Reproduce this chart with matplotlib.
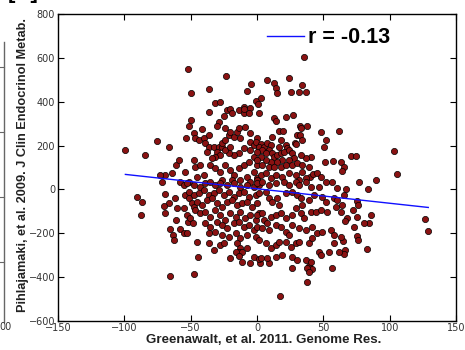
import numpy as np
import matplotlib.pyplot as plt
from matplotlib.lines import Line2D

# Per-subject scores: (Greenawalt 2011, Pihlajamaki 2009)
outliers = [
    (35.4, 604), (-52.3, 548), (-23.7, 518), (-4.4, 481), (7.7, 497), (12.5, 485),
    (24.4, 510), (33.9, 475), (-99.2, 180), (-84.5, 157), (-90.6, -36), (-86.6, -57),
    (-87.4, -115), (103, 177), (105.2, 70), (89.6, 42), (83.8, 2), (126.6, -136),
    (129.1, -190), (85.8, -115), (84.6, -155), (82.8, -272), (37.4, -424), (17, -486),
    (77, 35), (67, 0), (75, -51), (76.5, -71), (72, -94), (75.7, -124), (73.2, -170),
    (75.7, -212), (76.5, -231), (68.2, -129), (66.4, -146), (66.1, -276), (65.9, -295),
    (80.7, -155), (64.9, -235), (2.1, -337), (8.9, -337), (39.5, -350), (41.5, -365),
]

upper_left = [
    (-49.8, 438), (-36.4, 456), (-7.9, 449), (-1.1, 403), (0.6, 388), (-31.4, 392),
    (-27.6, 400), (-36.4, 354), (-22.5, 362), (-20, 367), (-18.8, 347), (-24.6, 336),
    (-13.7, 362), (-10, 377), (-4.9, 373), (-10, 347), (-6.2, 347), (1.4, 347),
    (-28.9, 309), (-30.1, 289), (-9.7, 365), (-49.5, 316), (-51.5, 289), (-41.4, 274),
    (-47.7, 256), (-53.3, 233), (-46.5, 233), (-44, 225), (-40.2, 233), (-36.4, 248),
    (-38.9, 210), (-36.4, 195), (-37.7, 172), (-32.6, 195), (-28.8, 195), (-26.3, 195),
    (-30.1, 172), (-27.6, 157), (-31.4, 149), (-33.9, 142), (-26.3, 210), (-23.8, 225),
    (-21.3, 248), (-20, 263), (-23.8, 278), (-17.5, 240), (-15, 263), (-13.7, 278),
    (-12.5, 233), (-8.7, 286), (-4.9, 256), (-4.9, 218), (0.1, 233), (-2.4, 202),
    (1.4, 180), (-4.9, 180), (-9.9, 187), (-13.7, 164), (-17.5, 157), (-21.3, 164),
    (-23.8, 180), (-20, 195), (-75.5, 221), (-66.6, 193), (-60.8, 111), (-58.6, 136),
    (-54, 81), (-47.7, 134), (-46.5, 104), (-42.7, 111), (-40.2, 66), (-45.2, 58),
    (-51.5, 35), (-69.2, 66), (-64.1, 73), (-72.9, 66), (-35.1, 111), (-31.4, 96),
    (-27.6, 81), (-23.8, 111), (-20, 88), (-17.5, 66), (-13.7, 96), (-10, 111),
    (-6.2, 126), (-2.4, 149), (0.1, 111), (-2.4, 81), (-7.4, 58), (-12.5, 43),
    (-18.8, 43), (-26.3, 43), (0.1, 50), (-4.9, 35),
]

upper_right = [
    (14, 461), (15.3, 438), (25.4, 443), (31.7, 443), (36.7, 443), (2.7, 415),
    (12.8, 324), (14, 313), (22.1, 332), (27.1, 339), (32.4, 291), (38, 291),
    (32.9, 278), (48.3, 263), (61.9, 266), (16.5, 268), (19.8, 268), (30.4, 248),
    (32.4, 248), (34.2, 225), (51.8, 225), (50.6, 192), (11.5, 240), (17.8, 225),
    (28.6, 210), (29.6, 205), (70.7, 154), (74.5, 154), (57.4, 129), (63.2, 126),
    (65.7, 104), (64.4, 84), (40.4, 149), (40, 58), (42.2, 69), (45.5, 73),
    (48, 58), (51, 125), (-1.1, 218), (2.7, 205), (1.4, 195), (5.2, 195),
    (7.7, 210), (10.2, 202), (9, 180), (3.9, 180), (0.2, 172), (6.5, 164),
    (11.5, 164), (12.8, 149), (15.3, 157), (17.8, 164), (16.5, 195), (21.6, 202),
    (22.8, 187), (20.3, 172), (24.1, 180), (26.6, 164), (27.9, 142), (24.1, 134),
    (19, 134), (15.3, 126), (10.2, 126), (6.5, 134), (2.7, 149), (0.2, 134),
    (3.9, 111), (9, 104), (12.8, 104), (17.8, 104), (21.6, 111), (26.6, 111),
    (30.4, 119), (34.2, 111), (36.7, 142), (32.9, 157), (39.2, 104), (2.7, 66),
    (6.5, 73), (10.2, 50), (14, 66), (19, 58), (24.1, 73), (29.1, 66),
    (34.2, 81), (36.7, 50), (31.7, 43), (0.2, 43),
]

lower_left = [
    (-71.7, 35), (-69.2, -21), (-66.1, -60), (-69.9, -76), (-69.2, -109), (-61.6, -41),
    (-60.3, -86), (-60.8, -139), (-65.4, -182), (-63.6, -208), (-62.4, -231), (-57.8, -182),
    (-55.3, -200), (-52.8, -200), (-55.3, -86), (-54, -25), (-51.5, -41), (-49, -63),
    (-47.7, -79), (-46.5, -94), (-52.8, -117), (-52.3, -147), (-50.3, -132), (-48.3, -155),
    (-45.2, -238), (-44.5, -307), (-65.4, -395), (-47.7, -387), (-57.8, 35), (-55.3, 20),
    (-52.8, 28), (-47.7, 20), (-42.7, 12), (-38.9, 28), (-35.1, 35), (-31.4, 20),
    (-27.6, 28), (-22.5, 20), (-17.5, 28), (-12.5, 12), (-7.4, 20), (-2.4, 12),
    (1.4, 20), (-51.5, -10), (-47.7, -25), (-44, -18), (-40.2, -3), (-36.4, -25),
    (-32.6, -18), (-28.8, -3), (-25, -25), (-21.3, -10), (-17.5, -33), (-13.7, -18),
    (-9.9, -10), (-6.2, -33), (-1.1, -25), (-45.2, -56), (-41.4, -71), (-37.7, -48),
    (-33.9, -41), (-30.1, -63), (-26.3, -79), (-22.5, -56), (-18.8, -48), (-15, -71),
    (-11.2, -63), (-7.4, -56), (-3.6, -79), (0.1, -63), (-42.7, -109), (-38.9, -101),
    (-35.1, -124), (-31.4, -94), (-27.6, -117), (-23.8, -140), (-20, -109), (-16.2, -124),
    (-12.5, -101), (-8.7, -132), (-4.9, -117), (-1.1, -140), (1.4, -109), (-38.9, -155),
    (-35.1, -170), (-30.1, -147), (-26.3, -162), (-22.5, -177), (-17.5, -155), (-13.7, -147),
    (-9.9, -170), (-6.2, -162), (-2.4, -185), (-36.4, -200), (-31.4, -193), (-26.3, -208),
    (-21.3, -216), (-16.2, -200), (-12.5, -223), (-7.4, -208), (-1.1, -216), (-36.4, -246),
    (-32.6, -276), (-27.6, -253), (-25, -246), (-15, -246), (-12.5, -269), (-13.7, -284),
    (-16.2, -284), (-11.2, -284), (-7.4, -269), (-2.4, -307), (-20.5, -314), (-13.7, -304),
    (-11.2, -329), (-4.9, -334), (1.4, -319),
]

lower_right = [
    (0.2, 28), (3.9, 35), (9, 20), (14, 28), (20.3, 35), (24.1, 20), (29.1, 35),
    (31.7, 20), (36.7, 35), (40.5, 12), (46.8, 12), (51.8, 35), (56.9, 35), (60.6, 5),
    (65.7, -25), (1.4, -18), (6.5, -10), (9, -41), (11.5, -56), (16.5, -71), (15.3, -41),
    (21.6, -18), (26.6, -10), (30.4, -25), (32.9, -41), (34.2, -71), (39.2, -48), (43, -25),
    (49.3, -33), (51.8, -56), (58.1, -41), (60.6, -48), (64.4, -71), (0.2, -117), (3.9, -109),
    (5.2, -140), (7.7, -155), (10.2, -124), (14, -117), (17.8, -109), (21.6, -132), (26.6, -117),
    (29.1, -86), (32.9, -109), (35.4, -132), (40.5, -101), (44.3, -101), (48, -94), (53.1, -101),
    (59.4, -79), (63.2, -101), (0.2, -170), (3.9, -177), (9, -185), (14, -162), (17.8, -170),
    (21.6, -193), (24.1, -208), (26.6, -162), (31.7, -177), (36.7, -185), (41.7, -170), (45.5, -200),
    (49.3, -193), (55.6, -185), (58.1, -208), (63.2, -216), (1.4, -231), (6.5, -246), (10.2, -269),
    (14, -253), (16.5, -238), (21.6, -238), (25.4, -261), (29.1, -246), (31.7, -238), (39.2, -246),
    (41.7, -223), (46.8, -284), (54.3, -284), (58.1, -246), (61.9, -284), (2.7, -314), (7.7, -314),
    (14, -307), (19, -299), (26.6, -307), (30.4, -322), (36.7, -322), (40.5, -329), (48, -299),
    (56.9, -360), (37.9, -360), (39.2, -375), (26.6, -360),
]

# least-squares line reported with r = -0.13
fit_slope = -0.66
fit_intercept = 3.0
fit_label = 'r = -0.13'

x_ticks = [-150, -100, -50, 0, 50, 100, 150]
y_ticks = [-600, -400, -200, 0, 200, 400, 600, 800]

pts = np.array(outliers + upper_left + upper_right + lower_left + lower_right)
gx, py = pts[:, 0], pts[:, 1]

fig = plt.figure(figsize=(4.65, 3.5), dpi=100)
ax = fig.add_axes([58 / 465, 29 / 350, 398 / 465, 307 / 350])

ax.scatter(gx, py, s=20, c='#8a1212', edgecolors='black', linewidths=0.5, zorder=2)

line_x = np.array([gx.min(), gx.max()])
ax.plot(line_x, fit_intercept + fit_slope * line_x, color='#1010ff', lw=1.0,
        label=fit_label, zorder=3)

ax.set_xlim(-150, 150)
ax.set_ylim(-600, 800)
ax.set_xticks(x_ticks)
ax.set_yticks(y_ticks)
ax.tick_params(direction='in', top=True, right=True, length=4, width=0.8,
               labelsize=7, labelcolor='#333333')
ax.tick_params(axis='x', pad=1.5)
ax.tick_params(axis='y', pad=2)
for s in ax.spines.values():
    s.set_linewidth(1.0)

leg = ax.legend(loc='upper right', bbox_to_anchor=(0.855, 0.985), frameon=False,
                handlelength=1.75, handletextpad=0.15, borderaxespad=0,
                prop={'family': 'Liberation Sans', 'weight': 'bold', 'size': 15.5})

fig.text(264 / 465, 1 - 340 / 350, 'Greenawalt, et al. 2011. Genome Res.',
         ha='center', va='center', fontsize=9.6, fontweight='bold',
         family='Liberation Sans', color='#222222')
fig.text(23 / 465, 1 - 165 / 350, 'Pihlajamaki, et al. 2009. J Clin Endocrinol Metab.',
         ha='center', va='center', rotation=90, fontsize=9.2, fontweight='bold',
         family='Liberation Sans', color='#222222')

# edge of the neighbouring panel
fig.add_artist(Line2D([3.5 / 465] * 2, [1 - 42 / 350, 1 - 322 / 350],
                      color='#666666', lw=1.0))
for ty in [67, 132, 197, 262]:
    fig.add_artist(Line2D([0, 3.5 / 465], [1 - ty / 350] * 2, color='#666666', lw=0.8))
fig.text(-1 / 465, 1 - 327 / 350, '00', ha='left', va='center', fontsize=7, color='#333333')
fig.text(8 / 465, 1 + 2 / 350, '[A]', ha='left', va='baseline', fontsize=16,
         fontweight='bold', family='Liberation Sans')

fig.savefig('out.png', dpi=100, facecolor='white')
